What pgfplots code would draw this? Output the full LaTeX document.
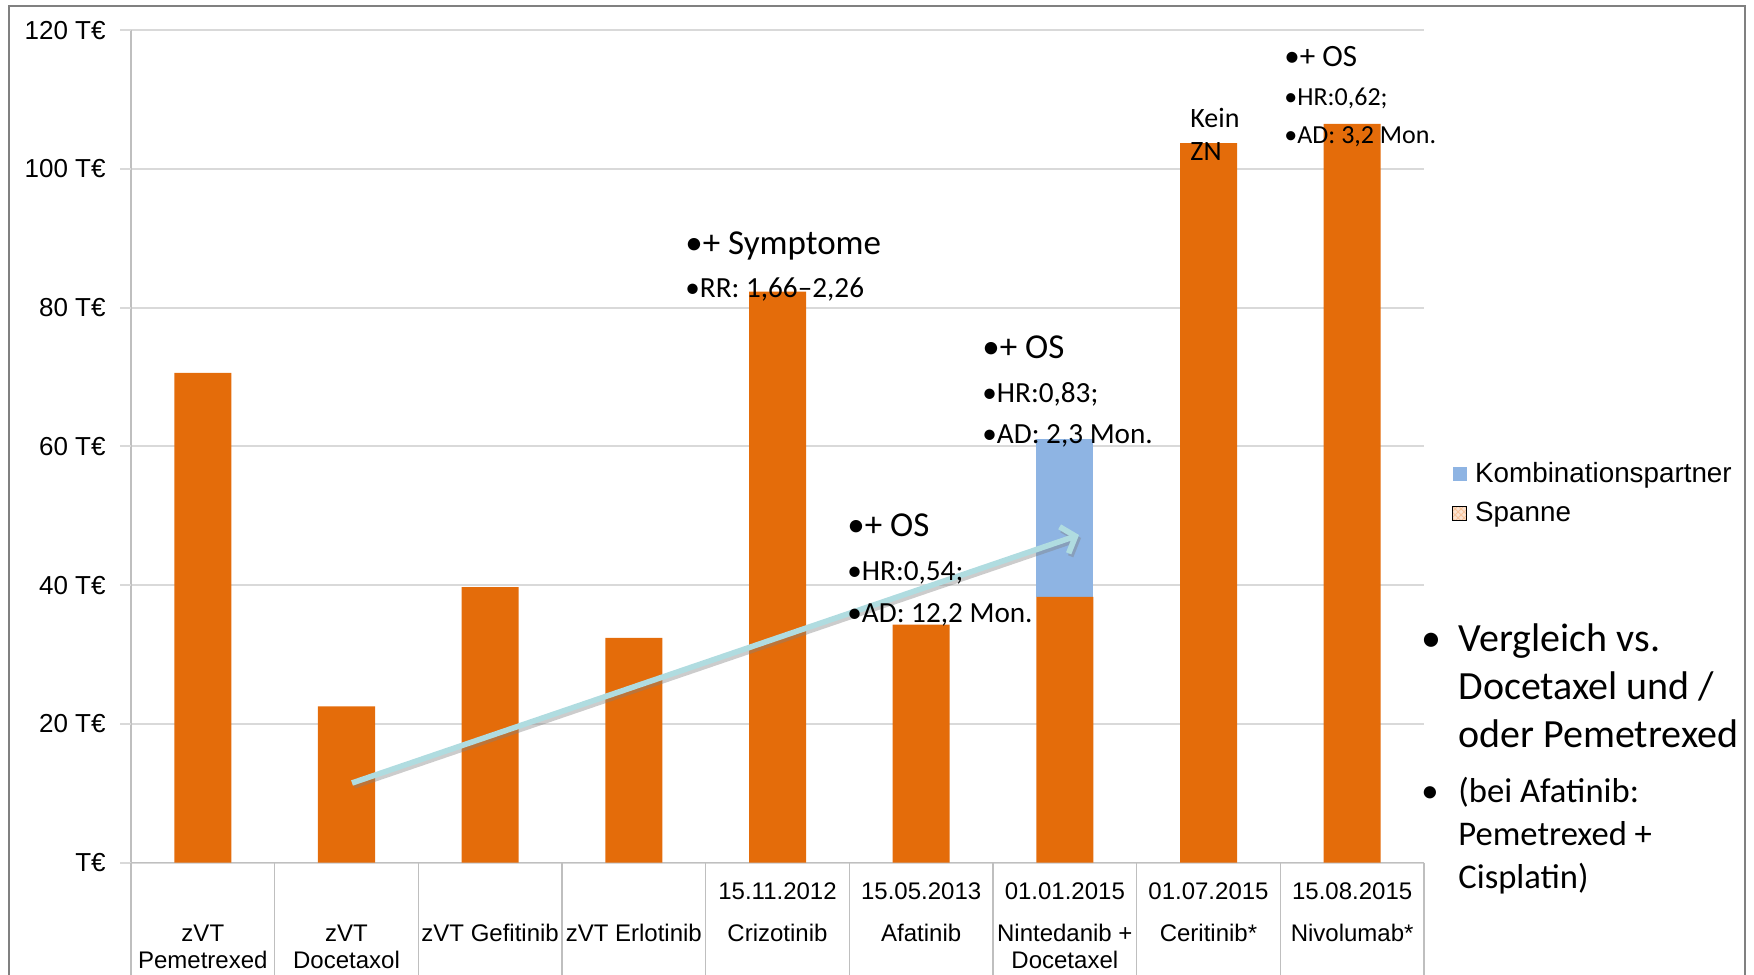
\documentclass[border=0pt]{standalone}
\usepackage{fontspec}
\setmainfont{Liberation Sans}
\newfontfamily\calibri{Carlito}
\usepackage{pgfplots}
\pgfplotsset{compat=1.18}
\usetikzlibrary{arrows.meta,patterns}
\definecolor{barorange}{HTML}{E46C0A}
\definecolor{barblue}{HTML}{8EB4E3}
\definecolor{gridgray}{HTML}{D9D9D9}
\definecolor{axgray}{HTML}{BFBFBF}
\definecolor{arrowcol}{HTML}{B0DCE0}
\definecolor{peach}{HTML}{F6B98A}
\definecolor{framegray}{HTML}{808080}

\begin{document}
\begin{tikzpicture}
\useasboundingbox (0,0) rectangle (877pt,487pt);
\begin{axis}[
  at={(65.5pt,55.75pt)}, anchor=south west,
  scale only axis, width=646.5pt, height=416.15pt,
  xmin=-0.5, xmax=8.5, ymin=0, ymax=120,
  ybar stacked, bar width=28.5pt,
  axis x line*=bottom, axis y line*=left,
  axis line style={-, draw=axgray, line width=0.8pt},
  xtick={0,1,2,3,4,5,6,7,8},
  xticklabels={
    {\strut\\[7.5pt]zVT\\Pemetrexed},
    {\strut\\[7.5pt]zVT\\Docetaxol},
    {\strut\\[7.5pt]zVT Gefitinib},
    {\strut\\[7.5pt]zVT Erlotinib},
    {\strut 15.11.2012\\[7.5pt]Crizotinib},
    {\strut 15.05.2013\\[7.5pt]Afatinib},
    {\strut 01.01.2015\\[7.5pt]Nintedanib +\\Docetaxel},
    {\strut 01.07.2015\\[7.5pt]Ceritinib*},
    {\strut 15.08.2015\\[7.5pt]Nivolumab*}},
  xtick style={draw=none},
  xticklabel style={anchor=north, inner sep=0pt, yshift=-8.8pt, align=center,
    font=\fontsize{12}{13.6}\selectfont, text=black},
  ytick={0,20,40,60,80,100,120},
  yticklabels={T€,20 T€,40 T€,60 T€,80 T€,100 T€,120 T€},
  ytick style={draw=none},
  yticklabel style={anchor=east, inner sep=0pt, xshift=-12.5pt,
    font=\fontsize{13}{15}\selectfont, text=black},
  ymajorgrids, major grid style={draw=gridgray, line width=1pt},
  clip=false,
  legend cell align=left,
  legend style={draw=none, fill=none, at={(axis description cs:1,0.4434)},
    anchor=west, xshift=14pt, inner sep=0pt,
    font=\fontsize{13.9}{16}\selectfont, row sep=5.5pt,
    nodes={inner sep=1.5pt},
    /tikz/every odd column/.append style={column sep=2.5pt}},
]
% orange cost bars
\addplot[fill=barorange, draw=none, forget plot] coordinates {
  (0,70.6) (1,22.5) (2,39.7) (3,32.4) (4,82.3) (5,34.3) (6,38.3) (7,103.7) (8,106.5)};
% combination partner
\addplot[fill=barblue, draw=none,
  legend image code/.code={\fill[barblue] (0pt,-3.5pt) rectangle (7pt,3.5pt);}]
  coordinates {(0,0) (1,0) (2,0) (3,0) (4,0) (5,0) (6,22.7) (7,0) (8,0)};
\addlegendentry{Kombinationspartner}
\addlegendimage{legend image code/.code={
  \fill[peach!40] (0pt,-3.5pt) rectangle (7pt,3.5pt);
  \fill[pattern=crosshatch, pattern color=peach!85] (0pt,-3.5pt) rectangle (7pt,3.5pt);}}
\addlegendentry{Spanne}
% category separators and left tick stubs
\pgfplotsinvokeforeach{-0.5,0.5,1.5,2.5,3.5,4.5,5.5,6.5,7.5,8.5}{
  \draw[axgray, line width=0.6pt] (axis cs:#1,0) -- ([yshift=-56pt]axis cs:#1,0);
}
\pgfplotsinvokeforeach{0,20,40,60,80,100,120}{
  \draw[gridgray, line width=1pt] (axis cs:-0.5,#1) -- ([xshift=-5.5pt]axis cs:-0.5,#1);
}
\end{axis}

\begin{scope}[x=0.5pt, y=-0.5pt, shift={(0,487pt)}]
% frame
\draw[framegray, line width=1pt] (9,980) -- (9,5.6) -- (1745,5.6) -- (1745,980);
% trend arrow
\draw[black!50, opacity=0.4, line width=2.8pt,
  -{Straight Barb[length=6pt,width=14pt]}]
  (354,786) -- (1081,538);
\draw[arrowcol, line width=2.8pt,
  -{Straight Barb[length=6pt,width=14pt]}]
  (352,783) -- (1079,535);
% annotations
\tikzset{ann/.style={anchor=base west, inner sep=0pt, text=black}}
\node[ann, font=\calibri\fontsize{17.5}{20}\selectfont] at (685,255) {•+ Symptome};
\node[ann, font=\calibri\fontsize{14.6}{16}\selectfont] at (685,298) {•RR: 1,66–2,26};

\node[ann, font=\calibri\fontsize{17.5}{20}\selectfont] at (982,359) {•+ OS};
\node[ann, font=\calibri\fontsize{14.6}{16}\selectfont] at (982,402.7) {•HR:0,83;};
\node[ann, font=\calibri\fontsize{14.6}{16}\selectfont] at (982,444) {•AD: 2,3 Mon.};

\node[ann, font=\calibri\fontsize{17.5}{20}\selectfont] at (847,537) {•+ OS};
\node[ann, font=\calibri\fontsize{14.6}{16}\selectfont] at (847,580.6) {•HR:0,54;};
\node[ann, font=\calibri\fontsize{14.6}{16}\selectfont] at (847,623) {•AD: 12,2 Mon.};

\node[ann, font=\calibri\fontsize{14}{16}\selectfont] at (1190,127.3) {Kein};
\node[ann, font=\calibri\fontsize{14}{16}\selectfont] at (1190,160.7) {ZN};

\node[ann, font=\calibri\fontsize{15.5}{18}\selectfont] at (1284,67) {•+ OS};
\node[ann, font=\calibri\fontsize{13}{15}\selectfont] at (1284,106) {•HR:0,62;};
\node[ann, font=\calibri\fontsize{13}{15}\selectfont] at (1284,144) {•AD: 3,2 Mon.};

% right-hand notes
\node[ann, font=\calibri\fontsize{20}{21}\selectfont] at (1421,652) {•};
\node[ann, font=\calibri\fontsize{20}{21}\selectfont] at (1458,652) {Vergleich vs.};
\node[ann, font=\calibri\fontsize{20}{21}\selectfont] at (1458,700) {Docetaxel und /};
\node[ann, font=\calibri\fontsize{20}{21}\selectfont] at (1458,748) {oder Pemetrexed};
\node[ann, font=\calibri\fontsize{17.3}{19}\selectfont] at (1421,803) {•};
\node[ann, font=\calibri\fontsize{17.3}{19}\selectfont] at (1458,803) {(bei Afatinib:};
\node[ann, font=\calibri\fontsize{17.3}{19}\selectfont] at (1458,845.5) {Pemetrexed +};
\node[ann, font=\calibri\fontsize{17.3}{19}\selectfont] at (1458,888) {Cisplatin)};
\end{scope}
\end{tikzpicture}
\end{document}
